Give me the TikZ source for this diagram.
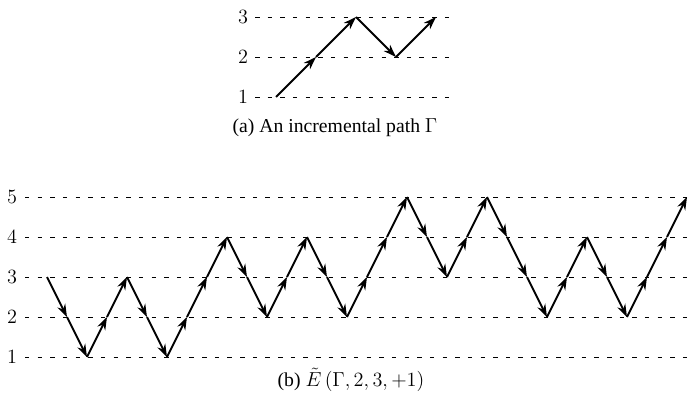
\documentclass[tikz,border=0pt]{standalone}
\usepackage{fontspec}
\newfontfamily\capfont{Liberation Serif}
\usetikzlibrary{arrows.meta}
\tikzset{>={Stealth[length=3.2mm,width=2.2mm]},every node/.style={font=\fontsize{14}{16}\selectfont},niveau/.style={line width=.6pt,dash pattern=on 3.2pt off 5.8pt},hop/.style={line width=1.3pt,->}}
\tikzset{legende/.style={font=\capfont\fontsize{14}{16}\selectfont}}

\begin{document}
\begin{tikzpicture}[x=.5cm,y=1cm]
\useasboundingbox (0,-.05) rectangle (34.6,9.925);
% (a) : niveaux 1..3 decales de 6.5, pas horizontal 2
\foreach \lev in {1,2,3}{\node (ta\lev) at (12.15,\lev+6.5){$\lev$};\draw[niveau] (12.75,\lev+6.5)--(22.6,\lev+6.5);}
\foreach \lev [count=\k from 0] in {1,2,3,2,3}{\coordinate (a\k) at (13.8+2*\k,\lev+6.5);}
\foreach \k in {1,...,4}{\pgfmathtruncatemacro\j{\k-1}\draw[hop] (a\j)--(a\k);}
\node[legende] (capa) at (16.75,6.725){(a) An incremental path $\Gamma$};
% (b) : niveaux 1..5, pas horizontal 1
\foreach \lev in {1,...,5}{\node (tb\lev) at (.6,\lev){$\lev$};\draw[niveau] (1.25,\lev)--(34.4,\lev);}
\foreach \lev [count=\k from 0] in {3,2,1,2,3,2,1,2,3,4,3,2,3,4,3,2,3,4,5,4,3,4,5,4,3,2,3,4,3,2,3,4,5}{\coordinate (b\k) at (2.35+\k,\lev);}
\foreach \k in {1,...,32}{\pgfmathtruncatemacro\j{\k-1}\draw[hop] (b\j)--(b\k);}
\node[legende] (capb) at (17.55,.425){(b) $\tilde{E}\,(\Gamma, 2, 3, +1)$};
\end{tikzpicture}
\end{document}
